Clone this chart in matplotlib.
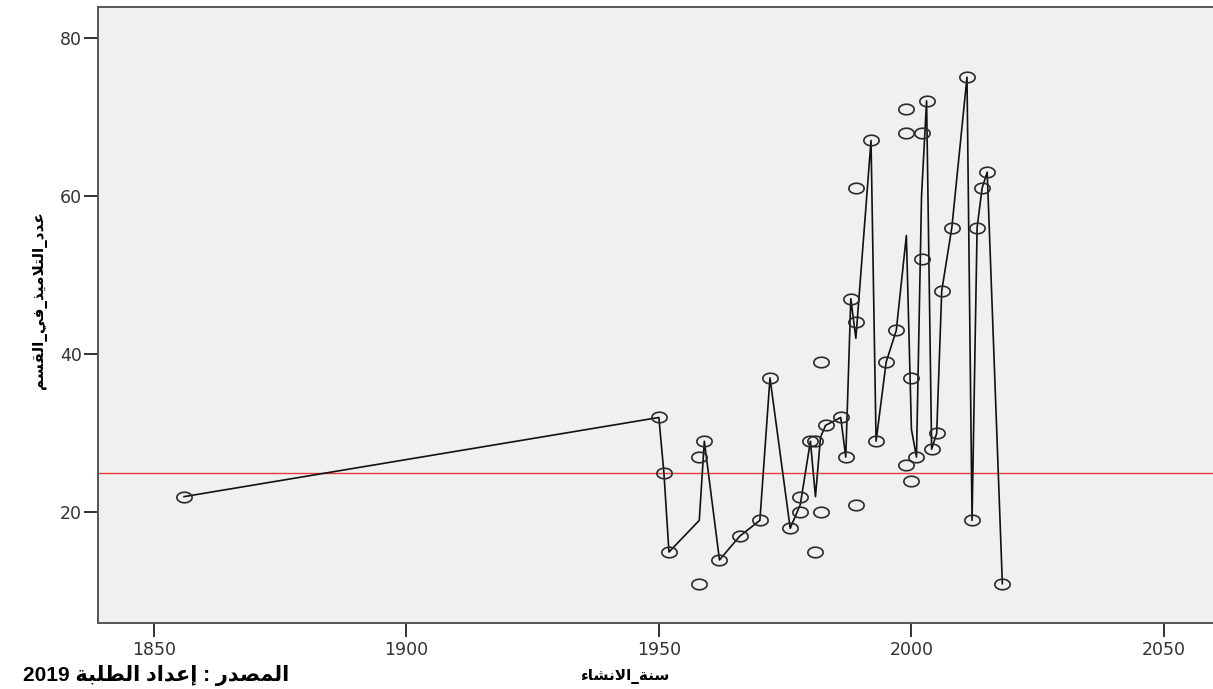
import re
import numpy as np
import pandas as pd
import matplotlib
matplotlib.use("Agg")
import matplotlib.pyplot as plt

# founding year of each school and number of pupils per class
years = [1856, 1950, 1951, 1952, 1958, 1958, 1959, 1962, 1966, 1970,
         1972, 1976, 1978, 1978, 1980, 1981, 1981, 1982, 1982, 1983,
         1986, 1987, 1988, 1989, 1989, 1989, 1992, 1993, 1995, 1997,
         1999, 1999, 1999, 2000, 2000, 2001, 2002, 2002, 2003, 2004,
         2005, 2006, 2008, 2011, 2012, 2013, 2014, 2015, 2018]
students = [22, 32, 25, 15, 27, 11, 29, 14, 17, 19,
            37, 18, 20, 22, 29, 29, 15, 20, 39, 31,
            32, 27, 47, 44, 61, 21, 67, 29, 39, 43,
            71, 68, 26, 37, 24, 27, 68, 52, 72, 28,
            30, 48, 56, 75, 19, 56, 61, 63, 11]
ref_value = 25
x_ticks = [1850, 1900, 1950, 2000, 2050]
y_ticks = [20, 40, 60, 80]

x_label = "سنة_الانشاء"
y_label = "عدد_التلاميذ_في_القسم"
source = "المصدر : إعداد الطلبة 2019"

# minimal arabic shaping (presentation forms + visual order)
FORMS = {
    'ا': (0xFE8D, 0xFE8E), 'إ': (0xFE87, 0xFE88),
    'ب': (0xFE8F, 0xFE90, 0xFE91, 0xFE92), 'ة': (0xFE93, 0xFE94),
    'ت': (0xFE95, 0xFE96, 0xFE97, 0xFE98), 'د': (0xFEA9, 0xFEAA),
    'ذ': (0xFEAB, 0xFEAC), 'ر': (0xFEAD, 0xFEAE),
    'س': (0xFEB1, 0xFEB2, 0xFEB3, 0xFEB4), 'ش': (0xFEB5, 0xFEB6, 0xFEB7, 0xFEB8),
    'ص': (0xFEB9, 0xFEBA, 0xFEBB, 0xFEBC), 'ط': (0xFEC1, 0xFEC2, 0xFEC3, 0xFEC4),
    'ع': (0xFEC9, 0xFECA, 0xFECB, 0xFECC), 'ف': (0xFED1, 0xFED2, 0xFED3, 0xFED4),
    'ق': (0xFED5, 0xFED6, 0xFED7, 0xFED8), 'ل': (0xFEDD, 0xFEDE, 0xFEDF, 0xFEE0),
    'م': (0xFEE1, 0xFEE2, 0xFEE3, 0xFEE4), 'ن': (0xFEE5, 0xFEE6, 0xFEE7, 0xFEE8),
    'ي': (0xFEF1, 0xFEF2, 0xFEF3, 0xFEF4), 'ء': (0xFE80,),
    'لا': (0xFEFB, 0xFEFC), 'لإ': (0xFEF9, 0xFEFA),
}


def shape(text):
    units = []
    i = 0
    while i < len(text):
        if text[i:i + 2] in ('لا', 'لإ'):
            units.append(text[i:i + 2])
            i += 2
        else:
            units.append(text[i])
            i += 1
    out = []
    for k, u in enumerate(units):
        f = FORMS.get(u)
        if f is None:
            out.append(u)
            continue
        prev = FORMS.get(units[k - 1]) if k > 0 else None
        nxt = FORMS.get(units[k + 1]) if k + 1 < len(units) else None
        jp = prev is not None and len(prev) == 4 and len(f) > 1
        jn = len(f) == 4 and nxt is not None and len(nxt) > 1
        if jp and jn:
            out.append(chr(f[3]))
        elif jp:
            out.append(chr(f[1]))
        elif jn:
            out.append(chr(f[2]))
        else:
            out.append(chr(f[0]))
    tokens = re.findall(r'[0-9]+|[^0-9]', ''.join(out))
    return ''.join(tokens[::-1])


plt.rcParams['font.family'] = ['DejaVu Sans']
src_fam = ['Liberation Sans', 'DejaVu Sans']

df = pd.DataFrame({'year': years, 'students': students})
means = df.groupby('year')['students'].mean()

fig = plt.figure(figsize=(12.13, 6.89), dpi=100)
ax = fig.add_axes([0.0805, 0.0954, 0.9195, 0.8949])
ax.set_facecolor('#F0F0F0')

theta = np.linspace(0, 2 * np.pi, 60)
ellipse = list(zip(1.45 * np.cos(theta), np.sin(theta)))

ax.plot(means.index, means.values, color='#111111', lw=1.2, zorder=2)
ax.plot(df['year'], df['students'], linestyle='none', marker=ellipse,
        markersize=11, markerfacecolor='none', markeredgecolor='#2a2a2a',
        markeredgewidth=1.2, zorder=3)
ax.axhline(ref_value, color='#E8393F', lw=1.0, zorder=1)

ax.set_xlim(1838.9, 2059.7)
ax.set_ylim(6.0, 83.9)
ax.set_xticks(x_ticks)
ax.set_yticks(y_ticks)
ax.tick_params(length=10, width=1.4, color='#333333', labelsize=12.5,
               labelcolor='#333333')
ax.tick_params(axis='y', pad=1.5)
ax.tick_params(axis='x', pad=3)
for side in ['left', 'bottom', 'top']:
    ax.spines[side].set_color('#555555')
    ax.spines[side].set_linewidth(1.4)
ax.spines['right'].set_visible(False)

fig.text(625 / 1213, 1 - 677 / 689, shape(x_label), ha='center', va='center',
         fontsize=11, fontweight='bold')
fig.text(40 / 1213, 1 - 300 / 689, shape(y_label), ha='center', va='center',
         rotation=90, fontsize=11, fontweight='bold')
fig.text(23 / 1213, 1 - 681 / 689, shape(source), ha='left', va='baseline',
         fontsize=15, fontweight='bold', family=src_fam)

fig.savefig('out.png', dpi=100)
